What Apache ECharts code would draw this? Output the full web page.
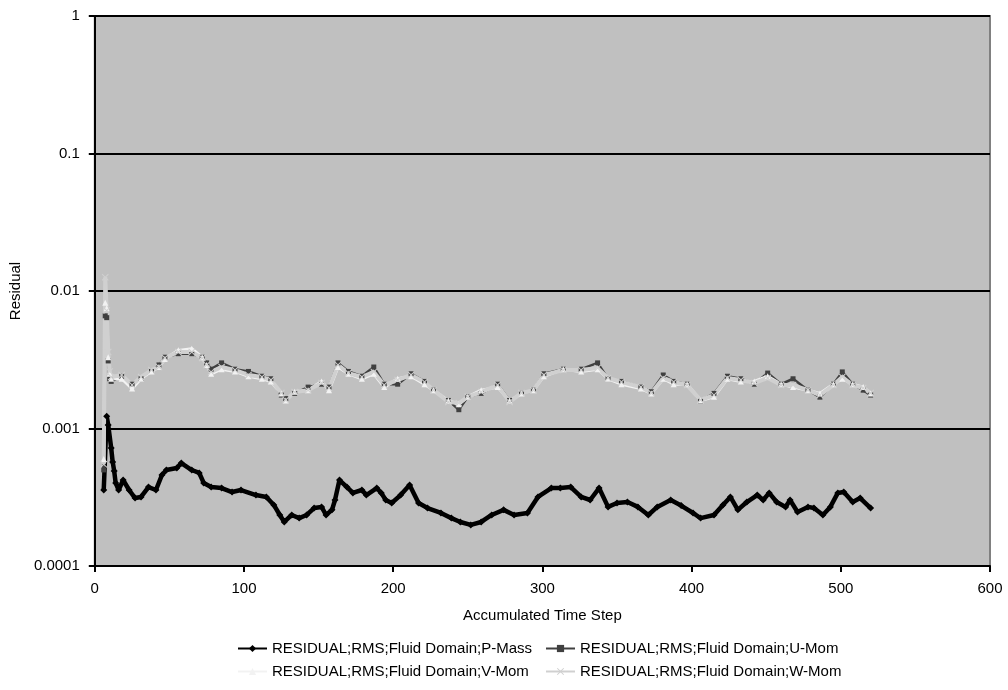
<!DOCTYPE html>
<html>
<head>
<meta charset="utf-8">
<title>Residual history</title>
<script src="https://cdn.jsdelivr.net/npm/echarts@6/dist/echarts.min.js"></script>
<style>
  html, body { margin: 0; padding: 0; background: #ffffff; }
  #chart { width: 1008px; height: 690px; }
</style>
</head>
<body>
<div id="chart"></div>
<script>
// Residual history of the solver run (log scale), one value per sampled time step.

const seriesNames = [
  'RESIDUAL;RMS;Fluid Domain;P-Mass',
  'RESIDUAL;RMS;Fluid Domain;U-Mom',
  'RESIDUAL;RMS;Fluid Domain;V-Mom',
  'RESIDUAL;RMS;Fluid Domain;W-Mom'
];

const yTickLabels = ['0.0001', '0.001', '0.01', '0.1', '1'];
const xTickLabels = ['0', '100', '200', '300', '400', '500', '600'];

// Mass residual
const pSteps = [
  6, 8, 9, 11, 12, 13, 14, 16, 19, 23,
  27, 31, 36, 41, 45, 48, 55, 58, 65, 70,
  73, 78, 85, 92, 98, 108, 115, 120, 124, 127,
  132, 137, 142, 147, 152, 155, 159, 161, 164, 169,
  173, 179, 182, 189, 192, 195, 199, 205, 211, 217,
  223, 232, 239, 245, 252, 259, 266, 274, 281, 290,
  297, 306, 312, 319, 326, 332, 338, 344, 350, 357,
  364, 371, 377, 386, 393, 401, 406, 415, 421, 426,
  431, 437, 444, 448, 452, 457, 463, 466, 471, 478,
  482, 488, 493, 498, 502, 508, 513, 520
];
const pMass = [
  0.000357, 0.00123, 0.00106, 0.000722, 0.000571, 0.000491, 0.000402, 0.000357, 0.000422, 0.000357,
  0.000312, 0.000318, 0.000375, 0.000357, 0.000459, 0.000499, 0.000516, 0.000561, 0.000499, 0.000475,
  0.000402, 0.000375, 0.000369, 0.000345, 0.000357, 0.000328, 0.000318, 0.000278, 0.000235, 0.000209,
  0.000235, 0.000223, 0.000235, 0.000264, 0.000269, 0.000235, 0.000256, 0.000302, 0.000422, 0.000375,
  0.000340, 0.000357, 0.000328, 0.000369, 0.000340, 0.000302, 0.000287, 0.000328, 0.000388, 0.000287,
  0.000264, 0.000243, 0.000223, 0.000209, 0.000199, 0.000209, 0.000235, 0.000256, 0.000235, 0.000243,
  0.000318, 0.000369, 0.000369, 0.000375, 0.000318, 0.000302, 0.000369, 0.000269, 0.000287, 0.000292,
  0.000269, 0.000235, 0.000269, 0.000302, 0.000275, 0.000243, 0.000223, 0.000235, 0.000278, 0.000318,
  0.000256, 0.000292, 0.000328, 0.000302, 0.000340, 0.000292, 0.000269, 0.000302, 0.000247, 0.000269,
  0.000264, 0.000235, 0.000269, 0.000340, 0.000345, 0.000292, 0.000312, 0.000264
];

// Momentum residuals share the same sampled steps
const momSteps = [
  6, 7, 8, 9, 10,
  11, 18, 25, 31, 38, 43, 47, 56, 65, 72,
  75, 78, 85, 94, 103, 112, 118, 125, 128, 134,
  143, 152, 157, 163, 170, 179, 187, 194, 203, 212,
  221, 227, 237, 244, 250, 259, 270, 278, 286, 294,
  301, 314, 326, 337, 344, 353, 366, 373, 381, 388,
  397, 406, 415, 424, 433, 442, 451, 460, 468, 478,
  486, 495, 501, 508, 515, 520
];
const uMom = [
  0.0005, 0.0066, 0.0064, 0.0031, 0.0023,
  0.0022, 0.0024, 0.0021, 0.0023, 0.0026, 0.0029, 0.0033, 0.0035, 0.0035, 0.0033,
  0.0030, 0.0027, 0.0030, 0.0027, 0.0026, 0.0024, 0.0023, 0.00175, 0.00165, 0.0018,
  0.0020, 0.0021, 0.0020, 0.0030, 0.0026, 0.0024, 0.0028, 0.0021, 0.0021, 0.0025,
  0.0022, 0.0019, 0.0016, 0.00137, 0.0017, 0.0018, 0.0021, 0.0016, 0.0018, 0.0019,
  0.0025, 0.0027, 0.0027, 0.0030, 0.0023, 0.0022, 0.0020, 0.00185, 0.00245, 0.0022,
  0.0021, 0.00158, 0.0018, 0.0024, 0.0023, 0.0021, 0.00253, 0.0021, 0.0023, 0.0019,
  0.00169, 0.0021, 0.00258, 0.0021, 0.0019, 0.00175
];
const vMom = [
  0.0006, 0.0082, 0.0075, 0.0033, 0.0025,
  0.0023, 0.0023, 0.00195, 0.0023, 0.0026, 0.0028, 0.0032, 0.0037, 0.0038, 0.0033,
  0.0029, 0.0025, 0.0027, 0.0026, 0.0024, 0.0023, 0.0022, 0.0018, 0.0016, 0.00185,
  0.0019, 0.0022, 0.0019, 0.0028, 0.0025, 0.0023, 0.0025, 0.0020, 0.0023, 0.0024,
  0.0021, 0.0019, 0.0016, 0.0015, 0.0017, 0.0019, 0.0020, 0.0016, 0.0018, 0.0019,
  0.0024, 0.0027, 0.0026, 0.0027, 0.0023, 0.0021, 0.00195, 0.0018, 0.0023, 0.0021,
  0.0021, 0.0016, 0.0017, 0.0023, 0.0022, 0.0022, 0.0024, 0.0021, 0.0020, 0.0019,
  0.0018, 0.0021, 0.0023, 0.0021, 0.0020, 0.0018
];
const wMom = [
  0.00055, 0.0126, 0.0072, 0.0036, 0.0026,
  0.00237, 0.00245, 0.00207, 0.00237, 0.00266, 0.0028, 0.00326, 0.0036, 0.0036, 0.00326,
  0.0029, 0.00258, 0.0028, 0.00266, 0.00245, 0.00237, 0.00225, 0.00181, 0.00161, 0.00184,
  0.0019, 0.00214, 0.00197, 0.0029, 0.00253, 0.00237, 0.00258, 0.00207, 0.00225, 0.00245,
  0.00218, 0.0019, 0.00156, 0.00153, 0.0017, 0.00184, 0.00207, 0.00156, 0.00181, 0.0019,
  0.00245, 0.00266, 0.00266, 0.00275, 0.00233, 0.00218, 0.0020, 0.00181, 0.00233, 0.00218,
  0.00207, 0.00161, 0.00175, 0.00233, 0.00225, 0.00214, 0.00233, 0.00207, 0.00207, 0.0019,
  0.00175, 0.00207, 0.00237, 0.00207, 0.00197, 0.00181
];

const pairs = (xs, ys) => xs.map((x, i) => [x, ys[i]]);

const FONT = '"Liberation Sans", Arial, sans-serif';
const FONT_SIZE = 15;
const crossSymbol = 'path://M0,1L1,0L5,4L9,0L10,1L6,5L10,9L9,10L5,6L1,10L0,9L4,5Z';

function lineSeries(name, data, color, width, symbol, size) {
  return {
    name: name,
    type: 'line',
    data: data,
    symbol: symbol,
    symbolSize: size,
    showSymbol: true,
    showAllSymbol: true,
    animation: false,
    lineStyle: { color: color, width: width },
    itemStyle: { color: color, borderColor: color, borderWidth: 0 },
    emphasis: { disabled: true }
  };
}

function legendAt(name, left, top) {
  return {
    data: [name],
    left: left,
    top: top,
    orient: 'horizontal',
    padding: 0,
    itemWidth: 29,
    itemHeight: 9,
    itemGap: 0,
    selectedMode: false,
    textStyle: { fontFamily: FONT, fontSize: FONT_SIZE, color: '#000' }
  };
}

const chart = echarts.init(document.getElementById('chart'), null, { renderer: 'canvas' });

chart.setOption({
  backgroundColor: '#ffffff',
  animation: false,
  textStyle: { fontFamily: FONT },
  grid: {
    left: 93, right: 18, top: 16, bottom: 124,
    show: true,
    backgroundColor: '#c0c0c0',
    borderColor: '#808080',
    borderWidth: 2
  },
  legend: [
    legendAt(seriesNames[0], 237, 641),
    legendAt(seriesNames[1], 545, 641),
    legendAt(seriesNames[2], 237, 664),
    legendAt(seriesNames[3], 545, 664)
  ],
  xAxis: {
    type: 'value',
    min: 0, max: 600, interval: 100,
    name: 'Accumulated Time Step',
    nameLocation: 'middle',
    nameGap: 42,
    nameTextStyle: { fontFamily: FONT, fontSize: FONT_SIZE, color: '#000' },
    axisLine: { onZero: false, lineStyle: { color: '#000', width: 2 } },
    axisTick: { show: true, inside: false, length: 6, lineStyle: { color: '#000', width: 2 } },
    axisLabel: {
      margin: 15, fontFamily: FONT, fontSize: FONT_SIZE, color: '#000',
      formatter: (v) => xTickLabels[Math.round(v / 100)]
    },
    splitLine: { show: false }
  },
  yAxis: {
    type: 'log',
    logBase: 10,
    min: 0.0001, max: 1,
    name: 'Residual',
    nameLocation: 'middle',
    nameGap: 67,
    nameRotate: 90,
    nameTextStyle: { fontFamily: FONT, fontSize: FONT_SIZE, color: '#000' },
    axisLine: { show: true, lineStyle: { color: '#000', width: 2 } },
    axisTick: { show: true, inside: false, length: 6, lineStyle: { color: '#000', width: 2 } },
    axisLabel: {
      margin: 15, fontFamily: FONT, fontSize: FONT_SIZE, color: '#000',
      formatter: (v) => yTickLabels[Math.round(Math.log10(v)) + 4]
    },
    splitLine: { show: true, lineStyle: { color: '#000', width: 2 } }
  },
  series: [
    lineSeries(seriesNames[0], pairs(pSteps, pMass), '#000000', 4.5, 'diamond', 7),
    lineSeries(seriesNames[1], pairs(momSteps, uMom), '#404040', 2.5, 'rect', 5),
    lineSeries(seriesNames[2], pairs(momSteps, vMom), '#f2f2f2', 3, 'triangle', 6),
    lineSeries(seriesNames[3], pairs(momSteps, wMom), '#d0d0d0', 4, crossSymbol, 7)
  ]
});
</script>
</body>
</html>
